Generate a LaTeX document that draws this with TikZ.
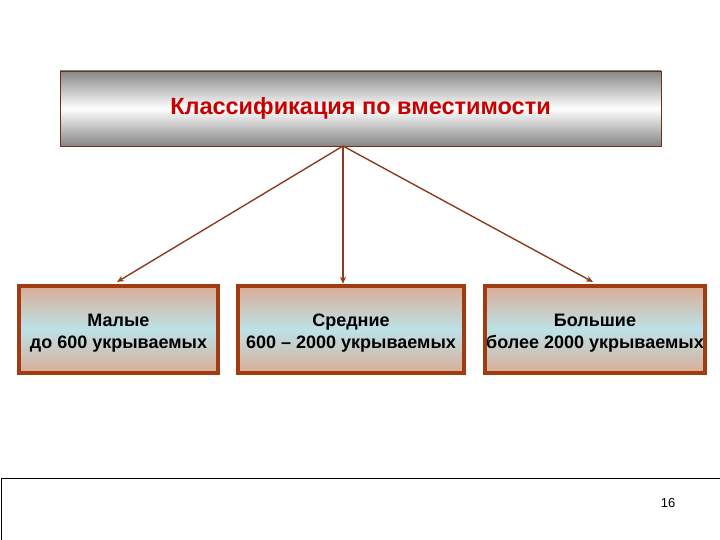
\documentclass[tikz,border=0pt]{standalone}
\usepackage{fontspec}
\setmainfont{Liberation Sans}
\usetikzlibrary{arrows.meta}
\definecolor{edgebrown}{RGB}{160,60,15}
\definecolor{arrowbrown}{RGB}{140,60,30}
\definecolor{titlered}{RGB}{200,0,0}
\definecolor{tan}{RGB}{218,172,150}
\definecolor{lightblue}{RGB}{188,226,232}
\newcommand{\upstrut}{\rule{0pt}{19pt}}
\tikzset{
  titlebox/.style={draw=arrowbrown!80!black, line width=0.8pt, rectangle,
    minimum width=601pt, minimum height=75pt, inner sep=0pt,
    top color=gray!95, bottom color=gray!95, middle color=white,
    text=titlered, font=\fontsize{23.5}{26}\selectfont\bfseries},
  catbox/.style={draw=edgebrown, line width=4.5pt, rectangle, inner sep=0pt,
    minimum height=87pt, align=center,
    top color=tan, bottom color=tan, middle color=lightblue,
    font=\fontsize{18}{22}\selectfont\bfseries},
  conn/.style={draw=arrowbrown, line width=1.4pt, -{Stealth[length=7pt,width=6pt,open]}},
}
\begin{document}
\begin{tikzpicture}[x=1pt,y=-1pt]
\useasboundingbox (0,0) rectangle (720,540);
\node[titlebox] (top) at (360.5,108.5) {Классификация по вместимости};
\node[catbox, minimum width=199pt] (small) at (118.5,329.5) {\upstrut Малые\\до 600 укрываемых};
\node[catbox, minimum width=226pt] (mid) at (351,329.5) {\upstrut Средние\\600 – 2000 укрываемых};
\node[catbox, minimum width=220pt] (big) at (595,329.5) {\upstrut Большие\\более 2000 укрываемых};
\coordinate (src) at (343,146);
\draw[conn] (src) -- (117,282);
\draw[conn] (src) -- (mid.north -| src);
\draw[conn] (src) -- (593,282);
\coordinate (fl) at (1,540);
\coordinate (fc) at (1,478);
\coordinate (fr) at (720,478);
\draw[black, line width=0.8pt] (fl) -- (fc) -- (fr);
\node[font=\fontsize{13}{15}\selectfont] (pg) at (668,503) {16};
\end{tikzpicture}
\end{document}
